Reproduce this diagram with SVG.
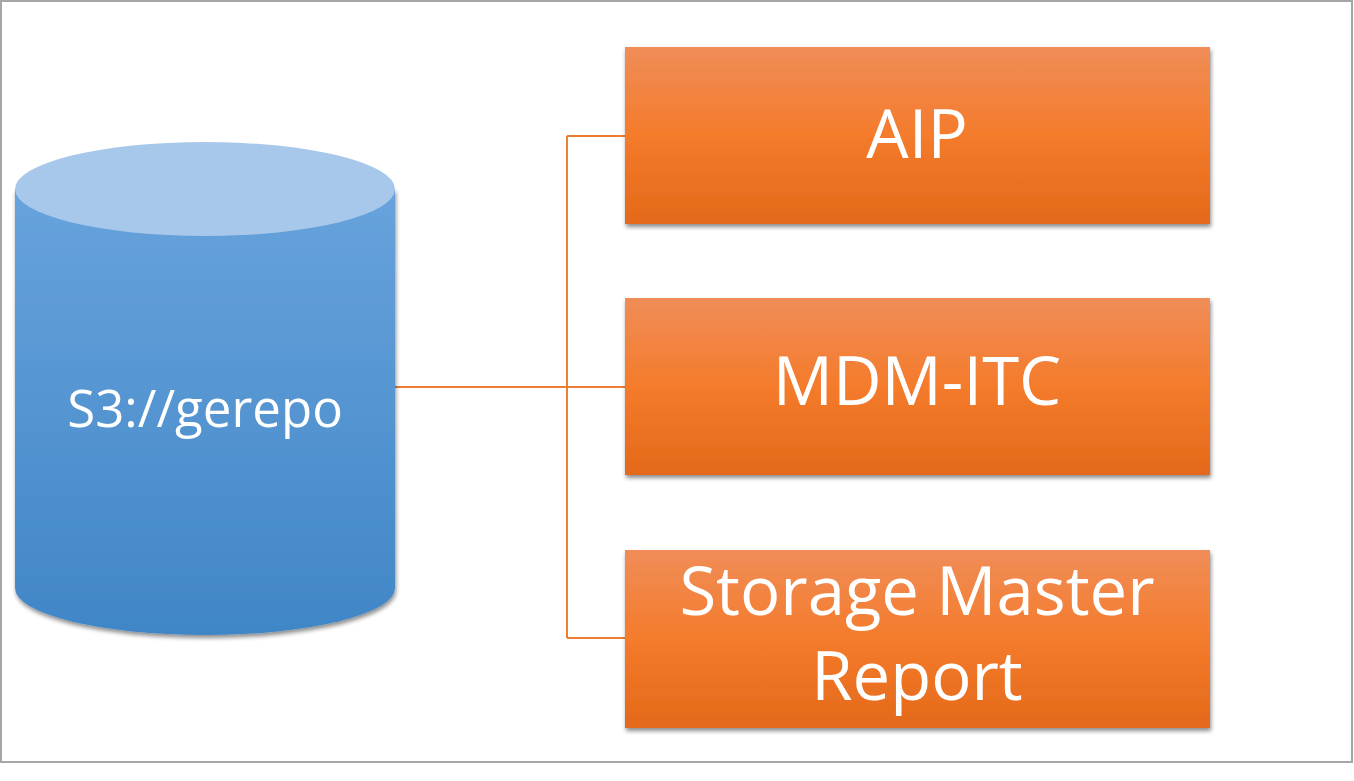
<svg xmlns="http://www.w3.org/2000/svg" width="1354" height="781" viewBox="0 0 1354 781">
<defs>
<linearGradient id="gBody" x1="0" y1="142" x2="0" y2="635" gradientUnits="userSpaceOnUse">
<stop offset="0" stop-color="#6CA6DF"/>
<stop offset="1" stop-color="#4086C6"/>
</linearGradient>
<linearGradient id="gBox" x1="0" y1="0" x2="0" y2="1">
<stop offset="0" stop-color="#F08D58"/>
<stop offset="0.5" stop-color="#F47B2B"/>
<stop offset="1" stop-color="#E4691A"/>
</linearGradient>
<filter id="sh" x="-5%" y="-5%" width="115%" height="120%">
<feDropShadow dx="1" dy="3" stdDeviation="2" flood-color="#000" flood-opacity="0.45"/>
</filter>
</defs>
<style>
.box{fill:url(#gBox);filter:url(#sh)}
.lbl{font-family:"Open Sans","Noto Sans",sans-serif;fill:#FFFFFF;text-anchor:middle}
.big{font-size:67px}
.conn{fill:none;stroke:#ED7D31;stroke-width:2}
</style>
<rect x="0" y="0" width="1354" height="781" fill="#FFFFFF"/>
<rect x="1" y="1" width="1351" height="761" fill="#FFFFFF" stroke="#A6A6A6" stroke-width="2"/>
<g id="connectors">
<path class="conn" d="M395,387 H567 M567,136 V638 M567,136 H625 M567,387 H625 M567,638 H625"/>
</g>
<g id="node-s3">
<path d="M15,189 V588 A190,47 0 0 0 395,588 V189 Z" fill="url(#gBody)" filter="url(#sh)"/>
<ellipse cx="205" cy="189" rx="190" ry="47" fill="#A7C8EA"/>
<text class="lbl" x="205" y="427" font-size="51">S3://gerepo</text>
</g>
<g id="node-aip">
<rect class="box" x="625" y="47" width="585" height="177"/>
<text class="lbl big" x="917" y="158">AIP</text>
</g>
<g id="node-mdm">
<rect class="box" x="625" y="298" width="585" height="177"/>
<text class="lbl big" x="917" y="405">MDM-ITC</text>
</g>
<g id="node-storage">
<rect class="box" x="625" y="550" width="585" height="178"/>
<text class="lbl big" x="917" y="615">Storage Master</text>
<text class="lbl big" x="917" y="700">Report</text>
</g>
</svg>
